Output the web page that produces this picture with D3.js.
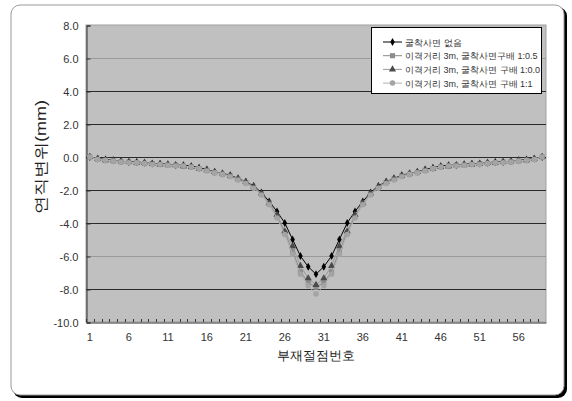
<!DOCTYPE html>
<html><head><meta charset="utf-8">
<script src="https://cdn.jsdelivr.net/npm/d3@7"></script>
<style>
html,body{margin:0;padding:0;background:#fff;}
svg{display:block;}
text{font-family:"Liberation Sans","DejaVu Sans",sans-serif;}
</style></head>
<body>
<svg id="c" width="572" height="401"></svg>
<script>
// ---- data ----
const nodes = d3.range(1, 60); // 부재절점번호 1..59
const seriesNames = [
  "굴착사면 없음",
  "이격거리 3m, 굴착사면구배 1:0.5",
  "이격거리 3m, 굴착사면 구배 1:0.0",
  "이격거리 3m, 굴착사면 구배 1:1"
];
const s1 = [0.0,-0.1,-0.15,-0.2,-0.25,-0.3,-0.3,-0.35,-0.4,-0.4,-0.45,-0.5,-0.5,-0.55,-0.65,-0.75,-0.9,-1.0,-1.1,-1.3,-1.5,-1.75,-2.15,-2.7,-3.3,-4.0,-5.0,-6.0,-6.65,-7.1,-6.65,-6.0,-5.0,-4.0,-3.3,-2.7,-2.15,-1.75,-1.5,-1.3,-1.1,-1.0,-0.9,-0.75,-0.65,-0.55,-0.5,-0.5,-0.45,-0.4,-0.4,-0.35,-0.3,-0.3,-0.25,-0.2,-0.15,-0.1,0.0];
const s2 = [0.0,-0.15,-0.2,-0.25,-0.3,-0.3,-0.35,-0.4,-0.4,-0.45,-0.5,-0.5,-0.55,-0.6,-0.7,-0.8,-0.95,-1.05,-1.15,-1.35,-1.55,-1.85,-2.25,-2.8,-3.6,-4.6,-5.7,-6.95,-7.6,-7.9,-7.6,-6.95,-5.7,-4.6,-3.6,-2.8,-2.25,-1.85,-1.55,-1.35,-1.15,-1.05,-0.95,-0.8,-0.7,-0.6,-0.55,-0.5,-0.5,-0.45,-0.4,-0.4,-0.35,-0.3,-0.3,-0.25,-0.2,-0.15,0.0];
const s3 = [0.0,-0.1,-0.2,-0.2,-0.25,-0.3,-0.35,-0.35,-0.4,-0.45,-0.45,-0.5,-0.55,-0.6,-0.7,-0.8,-0.9,-1.0,-1.15,-1.3,-1.5,-1.8,-2.2,-2.8,-3.5,-4.5,-5.4,-6.6,-7.35,-7.75,-7.35,-6.6,-5.4,-4.5,-3.5,-2.8,-2.2,-1.8,-1.5,-1.3,-1.15,-1.0,-0.9,-0.8,-0.7,-0.6,-0.55,-0.5,-0.45,-0.45,-0.4,-0.35,-0.35,-0.3,-0.25,-0.2,-0.2,-0.1,0.0];
const s4 = [0.0,-0.15,-0.2,-0.25,-0.3,-0.35,-0.35,-0.4,-0.45,-0.45,-0.5,-0.55,-0.55,-0.6,-0.7,-0.85,-0.95,-1.05,-1.2,-1.4,-1.6,-1.9,-2.3,-2.9,-3.7,-4.7,-5.9,-7.1,-7.8,-8.3,-7.8,-7.1,-5.9,-4.7,-3.7,-2.9,-2.3,-1.9,-1.6,-1.4,-1.2,-1.05,-0.95,-0.85,-0.7,-0.6,-0.55,-0.55,-0.5,-0.45,-0.45,-0.4,-0.35,-0.35,-0.3,-0.25,-0.2,-0.15,0.0];
const yTicks = [8,6,4,2,0,-2,-4,-6,-8,-10];
const xTickLabels = [1,6,11,16,21,26,31,36,41,46,51,56];
const yTitle = "연직변위(mm)";
const xTitle = "부재절점번호";

// ---- layout ----
const svg = d3.select("#c");
const L = 86, R = 546, T = 25, B = 322;

// outer frame with shadow
svg.append("rect").attr("x",13).attr("y",7).attr("width",554).attr("height",391)
  .attr("rx",9).attr("fill","#000");
svg.append("rect").attr("x",11).attr("y",5).attr("width",553).attr("height",390)
  .attr("rx",9).attr("fill","#fff").attr("stroke","#999").attr("stroke-width",1);

const x = d3.scaleBand().domain(nodes).range([L, R]).padding(0);
const y = d3.scaleLinear().domain([-10, 8]).range([B, T]);
const cx = d => x(d) + x.bandwidth()/2;

// plot background
svg.append("rect").attr("x",L).attr("y",T).attr("width",R-L).attr("height",B-T)
  .attr("fill","#c0c0c0").attr("stroke","#a0a0a0");

// gridlines
svg.append("g").selectAll("line").data(yTicks.filter(v => v!==8 && v!==-10)).join("line")
  .attr("x1",L).attr("x2",R)
  .attr("y1",d=>Math.round(y(d))+0.5).attr("y2",d=>Math.round(y(d))+0.5)
  .attr("stroke",d => (d===6||d===-6) ? "#9a9a9a" : "#2a2a2a").attr("stroke-width",1);

// y axis
const yAxis = d3.axisLeft(y).tickValues(yTicks).tickSize(-4).tickPadding(8)
  .tickFormat(d => d.toFixed(1));
const gy = svg.append("g").attr("transform",`translate(${L+0.5},0.5)`).call(yAxis);
gy.select(".domain").attr("stroke","#333");
gy.selectAll(".tick line").attr("stroke","#333");
gy.selectAll(".tick text").attr("font-size",11).attr("fill","#333").attr("dx",0);

// x axis
const xAxis = d3.axisBottom(x).tickValues(xTickLabels).tickSize(0).tickPadding(11);
const gx = svg.append("g").attr("transform",`translate(0,${B+0.5})`).call(xAxis);
gx.select(".domain").attr("stroke","#333");
gx.selectAll(".tick text").attr("font-size",11).attr("fill","#333");
// category boundary ticks (inside)
svg.append("g").selectAll("line").data(nodes).join("line")
  .attr("x1",d=>Math.round(x(d))+0.5).attr("x2",d=>Math.round(x(d))+0.5)
  .attr("y1",B-3).attr("y2",B).attr("stroke","#333");

// titles
svg.append("text").attr("transform",`translate(46,157) rotate(-90)`)
  .attr("text-anchor","middle").attr("font-size",15).attr("fill","#222")
  .attr("font-family","Noto Sans CJK KR").attr("textLength",114).attr("lengthAdjust","spacingAndGlyphs")
  .text(yTitle);
svg.append("text").attr("x",316).attr("y",360).attr("text-anchor","middle")
  .attr("font-size",13).attr("fill","#222").attr("font-family","Noto Sans CJK KR")
  .text(xTitle);

// series
const series = [
  {name: seriesNames[0], vals: s1, line:"#000", mark:"#000", sym: d3.symbolDiamond, size: 18},
  {name: seriesNames[1], vals: s2, line:"#8a8a8a", mark:"#8c8c8c", sym: d3.symbolSquare, size: 26},
  {name: seriesNames[2], vals: s3, line:"#9a9a9a", mark:"#4a4a4a", sym: d3.symbolTriangle, size: 22},
  {name: seriesNames[3], vals: s4, line:"#b0b0b0", mark:"#a4a4a4", sym: d3.symbolCircle, size: 24}
];
const line = d3.line().x((d,i)=>cx(nodes[i])).y(d=>y(d));
series.forEach(s => {
  const g = svg.append("g");
  g.append("path").datum(s.vals).attr("d",line).attr("fill","none")
    .attr("stroke",s.line).attr("stroke-width",1);
  g.selectAll("path.m").data(s.vals).join("path").attr("class","m")
    .attr("transform",(d,i)=>`translate(${cx(nodes[i])},${y(d)})`)
    .attr("d",d3.symbol().type(s.sym).size(s.size)).attr("fill",s.mark);
});

// legend
const lg = svg.append("g");
lg.append("rect").attr("x",371.5).attr("y",27.5).attr("width",170).attr("height",66)
  .attr("fill","#fff").attr("stroke","#000");
series.forEach((s,i) => {
  const yy = 42 + i*13.7;
  lg.append("line").attr("x1",383).attr("x2",402).attr("y1",yy).attr("y2",yy)
    .attr("stroke",s.line).attr("stroke-width",1);
  lg.append("path").attr("transform",`translate(392.5,${yy})`)
    .attr("d",d3.symbol().type(s.sym).size(s.size)).attr("fill",s.mark);
  lg.append("text").attr("x",405).attr("y",yy+3.5).attr("font-size",9)
    .attr("fill","#333").attr("font-family","Noto Sans CJK KR").text(s.name);
});
</script>
</body></html>
